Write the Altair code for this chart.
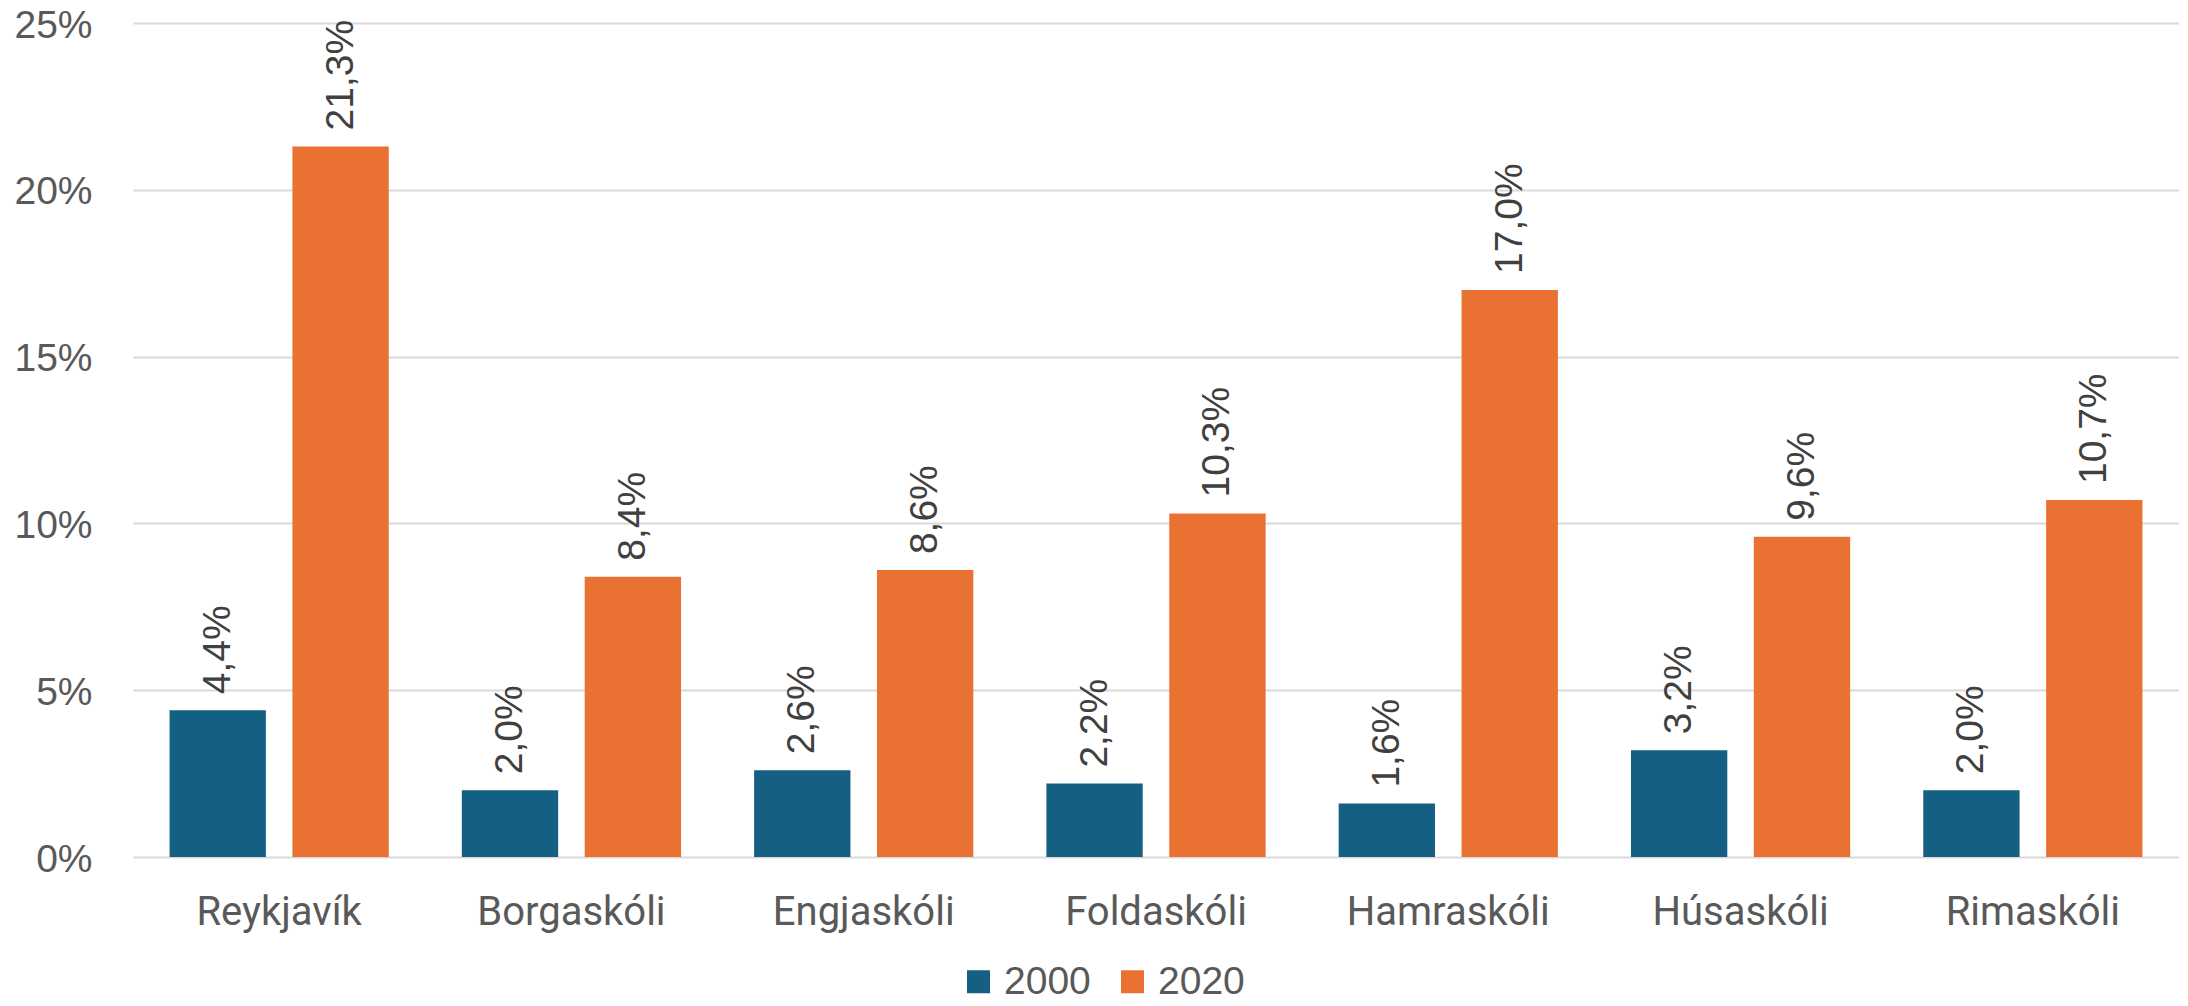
import altair as alt
import pandas as pd

schools = ["Reykjavík", "Borgaskóli", "Engjaskóli", "Foldaskóli", "Hamraskóli", "Húsaskóli", "Rimaskóli"]
years = ["2000", "2020"]
values_2000 = [4.4, 2.0, 2.6, 2.2, 1.6, 3.2, 2.0]
values_2020 = [21.3, 8.4, 8.6, 10.3, 17.0, 9.6, 10.7]
colors = ["#156082", "#E97132"]
y_ticks = [0, 5, 10, 15, 20, 25]

rows = []
for s, a, b in zip(schools, values_2000, values_2020):
    rows.append({"school": s, "year": years[0], "value": a})
    rows.append({"school": s, "year": years[1], "value": b})
df = pd.DataFrame(rows)

base = alt.Chart(df).transform_calculate(
    label="replace(format(datum.value, '.1f'), '.', ',') + '%'"
).encode(
    x=alt.X(
        "school:N",
        sort=schools,
        scale=alt.Scale(paddingInner=0.25, paddingOuter=0.125),
        axis=alt.Axis(
            title=None, ticks=False, tickSize=0, domain=False, labelAngle=0,
            labelFont="Roboto", labelFontSize=40, labelColor="#595959",
            labelPadding=35, labelBaseline="top", labelLimit=0,
        ),
    ),
    xOffset=alt.XOffset("year:N", sort=years, scale=alt.Scale(paddingInner=0.216, paddingOuter=0)),
    y=alt.Y(
        "value:Q",
        scale=alt.Scale(domain=[0, 25]),
        axis=alt.Axis(
            title=None, values=y_ticks, labelExpr="datum.value + '%'",
            ticks=False, tickSize=0, domain=False,
            grid=True, gridColor="#D9D9D9", gridWidth=2,
            labelFont="Liberation Sans", labelFontSize=39, labelColor="#595959",
            labelPadding=41, labelOffset=2, labelFlush=False,
        ),
    ),
)

bars = base.mark_bar().encode(
    color=alt.Color(
        "year:N",
        scale=alt.Scale(domain=years, range=colors),
        legend=alt.Legend(
            title=None, orient="none", direction="horizontal",
            legendX=826, legendY=939,
            symbolType="square", symbolSize=529, symbolStrokeWidth=0,
            labelFont="Liberation Sans", labelFontSize=39, labelColor="#595959",
            columnPadding=22, labelOffset=6,
        ),
    )
)

labels = base.mark_text(
    angle=270, align="left", baseline="middle", dx=16,
    font="Liberation Sans", fontSize=39, color="#404040",
).encode(text="label:N")

chart = alt.layer(bars, labels).properties(
    width=2046,
    height=834,
    autosize=alt.AutoSizeParams(type="none"),
    padding={"left": 125, "top": 15, "right": 0, "bottom": 141},
    background="white",
).configure_view(stroke=None)

chart.save("out.html", embed_options={"renderer": "svg", "actions": False})
